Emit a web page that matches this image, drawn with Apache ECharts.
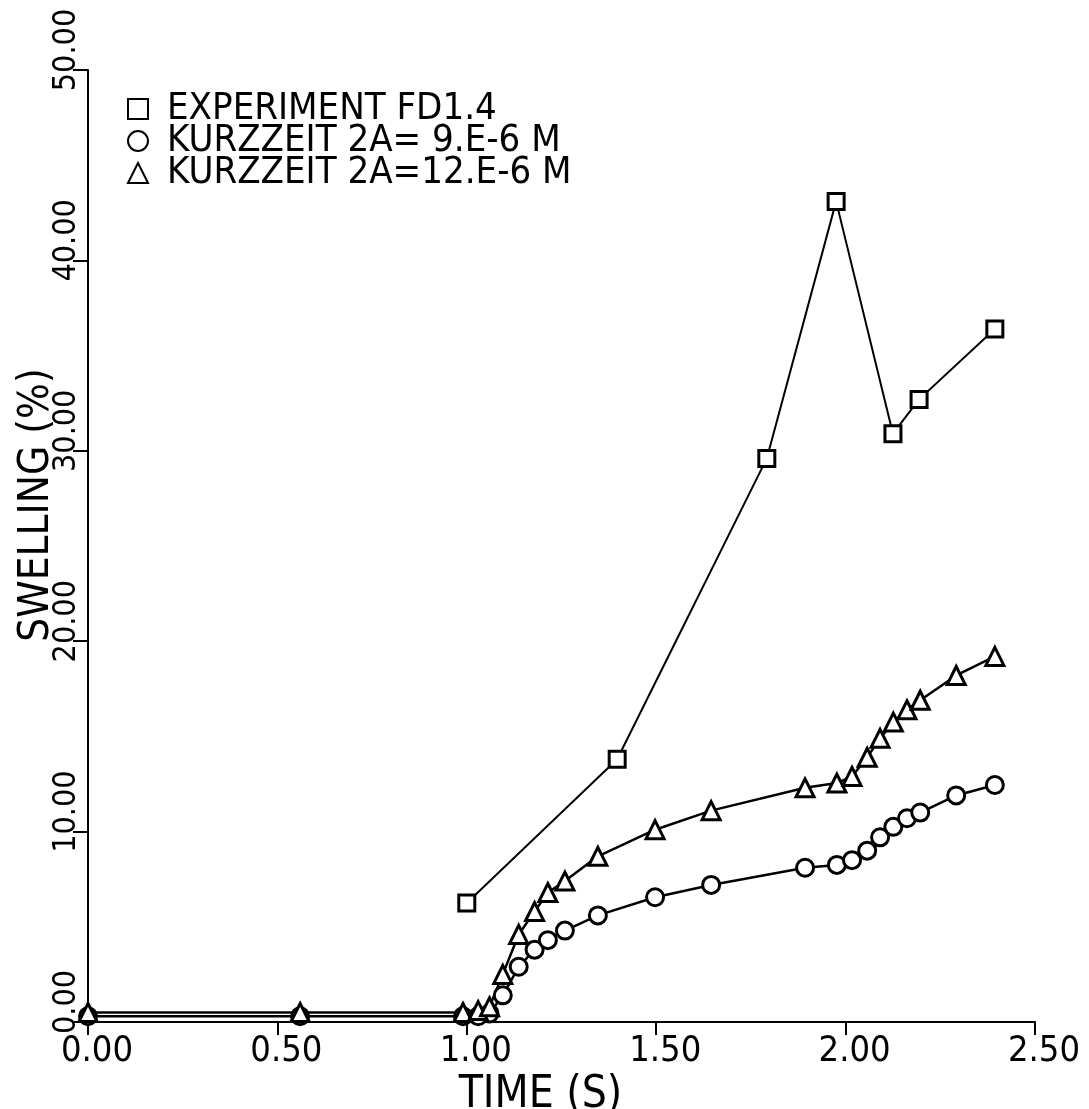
<!DOCTYPE html>
<html>
<head>
<meta charset="utf-8">
<script src="https://cdn.jsdelivr.net/npm/echarts@6/dist/echarts.min.js"></script>
<style>
  html, body { margin: 0; padding: 0; background: #fff; }
  #main { width: 1089px; height: 1109px; }
</style>
</head>
<body>
<div id="main"></div>
<script>
// Werte
var timeExp = [1.0, 1.397, 1.792, 1.975, 2.125, 2.194, 2.394];
var swellExp = [6.25, 13.8, 29.6, 43.1, 30.9, 32.7, 36.4];

var timeSim = [0.0, 0.56, 0.99, 1.03, 1.06, 1.095, 1.137, 1.179, 1.214, 1.259, 1.346,
               1.497, 1.645, 1.893, 1.977, 2.017, 2.057, 2.091, 2.126, 2.162, 2.197, 2.292, 2.394];
var swell9 = [0.3, 0.3, 0.3, 0.3, 0.45, 1.4, 2.9, 3.8, 4.3, 4.8, 5.6,
              6.55, 7.2, 8.1, 8.25, 8.5, 9.0, 9.7, 10.25, 10.7, 11.0, 11.9, 12.45];
var swell12 = [0.5, 0.5, 0.5, 0.6, 0.8, 2.5, 4.6, 5.8, 6.8, 7.4, 8.7,
               10.1, 11.1, 12.3, 12.55, 12.9, 13.9, 14.9, 15.75, 16.4, 16.9, 18.2, 19.2];

var seriesNames = ['EXPERIMENT FD1.4', 'KURZZEIT 2A= 9.E-6 M', 'KURZZEIT 2A=12.E-6 M'];
var xTicks = [0, 2.5, 0.5];   // min, max, interval
var yTicks = [0, 50, 10];

var FONT = "'DejaVu Sans Condensed', 'DejaVu Sans', sans-serif";

function pairs(xs, ys) {
    var out = [];
    for (var i = 0; i < xs.length; i++) out.push([xs[i], ys[i]]);
    return out;
}

var chart = echarts.init(document.getElementById('main'), null, { renderer: 'canvas' });

var markStyle = {
    color: '#fff',
    borderColor: '#000',
    borderWidth: 3
};

var option = {
    backgroundColor: '#fff',
    animation: false,
    grid: { left: 88, right: 54, top: 70, bottom: 87, outerBoundsMode: 'none' },
    legend: {
        orient: 'vertical',
        left: 122,
        top: 85,
        itemWidth: 20,
        itemHeight: 20,
        itemGap: -6,
        data: [
            { name: seriesNames[0], icon: 'rect' },
            { name: seriesNames[1], icon: 'circle' },
            { name: seriesNames[2], icon: 'triangle' }
        ],
        textStyle: { fontFamily: FONT, fontSize: 38, color: '#000', padding: [0, 0, 0, 14] }
    },
    xAxis: {
        type: 'value',
        min: xTicks[0], max: xTicks[1], interval: xTicks[2],
        name: 'TIME (S)',
        nameLocation: 'middle',
        nameGap: 52,
        nameMoveOverlap: false,
        nameTextStyle: { fontFamily: FONT, fontSize: 44, color: '#000', padding: [0, 42, 0, 0] },
        axisLine: { show: true, lineStyle: { color: '#000', width: 2 } },
        axisTick: { show: true, inside: false, length: 13, lineStyle: { color: '#000', width: 2 } },
        axisLabel: {
            fontFamily: FONT, fontSize: 36, color: '#000', margin: 12,
            padding: [0, 0, 0, 18],
            formatter: function (v) { return v.toFixed(2); }
        },
        splitLine: { show: false }
    },
    yAxis: {
        type: 'value',
        min: yTicks[0], max: yTicks[1], interval: yTicks[2],
        name: 'SWELLING (%)',
        nameLocation: 'middle',
        nameGap: 30,
        nameMoveOverlap: false,
        nameTextStyle: { fontFamily: FONT, fontSize: 42, color: '#000', padding: [0, 0, 0, 82] },
        axisLine: { show: true, lineStyle: { color: '#000', width: 2 } },
        axisTick: { show: true, inside: false, length: 15, lineStyle: { color: '#000', width: 2 } },
        axisLabel: {
            fontFamily: FONT, fontSize: 32, color: '#000', margin: 5,
            rotate: 90,
            align: 'center',
            verticalAlign: 'bottom',
            padding: [0, 0, 0, 40],
            formatter: function (v) { return v.toFixed(2); }
        },
        splitLine: { show: false }
    },
    series: [
        {
            name: seriesNames[0],
            type: 'line',
            data: pairs(timeExp, swellExp),
            symbol: 'rect',
            symbolSize: 16,
            itemStyle: markStyle,
            lineStyle: { color: '#000', width: 2 },
            z: 3
        },
        {
            name: seriesNames[1],
            type: 'line',
            data: pairs(timeSim, swell9),
            symbol: 'circle',
            symbolSize: 17,
            itemStyle: markStyle,
            lineStyle: { color: '#000', width: 2.5 },
            z: 2
        },
        {
            name: seriesNames[2],
            type: 'line',
            data: pairs(timeSim, swell12),
            symbol: 'triangle',
            symbolSize: 18,
            itemStyle: markStyle,
            lineStyle: { color: '#000', width: 2.5 },
            z: 2
        }
    ]
};

chart.setOption(option);
window.addEventListener('resize', chart.resize);
</script>
</body>
</html>
